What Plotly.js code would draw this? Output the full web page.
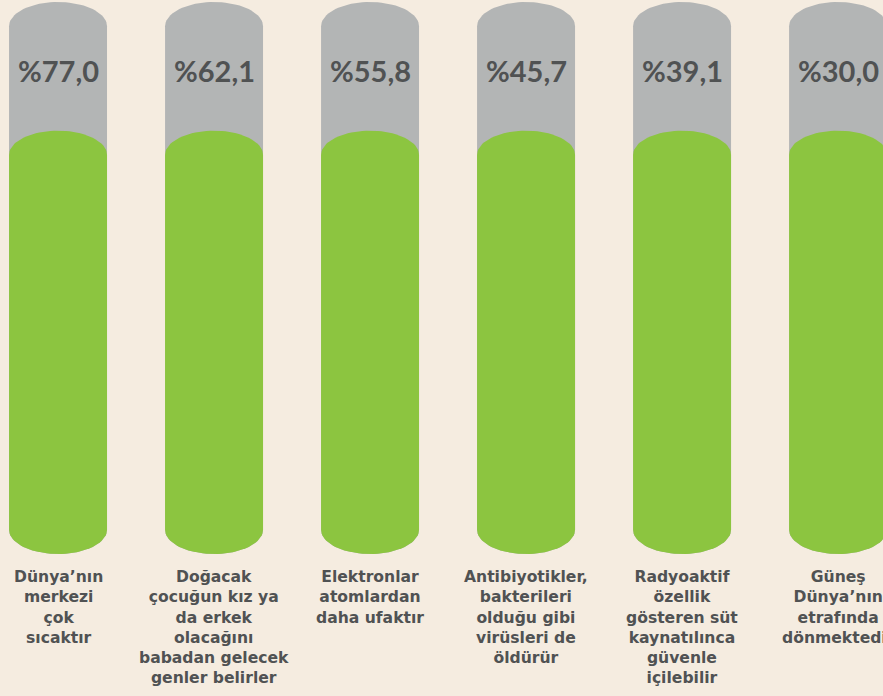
<!DOCTYPE html>
<html>
<head>
<meta charset="utf-8">
<script src="https://cdn.plot.ly/plotly-3.0.1.min.js"></script>
<style>
  html, body { margin: 0; padding: 0; background: #f5ece0; }
  #chart { width: 883px; height: 696px; }
</style>
</head>
<body>
<div id="chart"></div>
<script>
// ---- data ----
const categories = [
  "Dünya’nın<br>merkezi<br>çok<br>sıcaktır",
  "Doğacak<br>çocuğun kız ya<br>da erkek<br>olacağını<br>babadan gelecek<br>genler belirler",
  "Elektronlar<br>atomlardan<br>daha ufaktır",
  "Antibiyotikler,<br>bakterileri<br>olduğu gibi<br>virüsleri de<br>öldürür",
  "Radyoaktif<br>özellik<br>gösteren süt<br>kaynatılınca<br>güvenle<br>içilebilir",
  "Güneş<br>Dünya’nın<br>etrafında<br>dönmektedir"
];
const percentValues = [77.0, 62.1, 55.8, 45.7, 39.1, 30.0];
const percentLabels = ["%77,0", "%62,1", "%55,8", "%45,7", "%39,1", "%30,0"];
// capsule full height (scale 0..100) and green fill level
const capsuleTop = [100, 100, 100, 100, 100, 100];
const greenLevel = [72.3, 72.3, 72.3, 72.3, 72.3, 72.3];

// ---- style ----
const BG = "#f5ece0";
const GRAY = "#b3b5b5";
const GREEN = "#8cc540";
const TEXT = "#505253";
const HALF_W = 0.314;   // half column width in category units
const CAP = 4.4;        // elliptical cap height in value units
const N = 40;

function arc(cx, cy, fromA, toA) {
  const xs = [], ys = [];
  for (let k = 0; k <= N; k++) {
    const t = fromA + (toA - fromA) * k / N;
    xs.push(cx + HALF_W * Math.cos(t));
    ys.push(cy + CAP * Math.sin(t));
  }
  return [xs, ys];
}

const traces = [];
categories.forEach((c, i) => {
  const top = capsuleTop[i] - CAP;
  const bot = CAP;
  const [tx, ty] = arc(i, top, 0, Math.PI);
  const [bx, by] = arc(i, bot, Math.PI, 2 * Math.PI);
  traces.push({
    type: "scatter", mode: "lines", fill: "toself",
    x: tx.concat(bx, [tx[0]]), y: ty.concat(by, [ty[0]]),
    fillcolor: GRAY, line: { width: 0, color: GRAY },
    hoverinfo: "skip", showlegend: false
  });
  const g = greenLevel[i];
  const [gx, gy] = arc(i, g, 0, Math.PI);
  traces.push({
    type: "scatter", mode: "lines", fill: "toself",
    x: gx.concat(bx, [gx[0]]), y: gy.concat(by, [gy[0]]),
    fillcolor: GREEN, line: { width: 0, color: GREEN },
    hoverinfo: "skip", showlegend: false
  });
});

const annotations = [];
categories.forEach((c, i) => {
  annotations.push({
    x: i, y: 87.6, xref: "x", yref: "y",
    text: "<b>" + percentLabels[i] + "</b>",
    showarrow: false, xanchor: "center", yanchor: "middle",
    font: { family: "Lato", size: 29, color: TEXT, weight: 900 }
  });
  annotations.push({
    x: i, y: -2.2, xref: "x", yref: "y",
    text: "<b>" + c + "</b>",
    showarrow: false, xanchor: "center", yanchor: "top", align: "center",
    font: { family: "DejaVu Sans", size: 15.6, color: TEXT }
  });
});

const layout = {
  width: 883, height: 696,
  margin: { l: 0, r: 0, t: 0, b: 0 },
  paper_bgcolor: BG, plot_bgcolor: BG,
  xaxis: { range: [-0.372, 5.288], visible: false, fixedrange: true },
  yaxis: { range: [-25.72, 100.36], visible: false, fixedrange: true },
  annotations: annotations,
  hovermode: false,
  showlegend: false
};

Plotly.newPlot("chart", traces, layout, { displayModeBar: false, staticPlot: true });
</script>
</body>
</html>
